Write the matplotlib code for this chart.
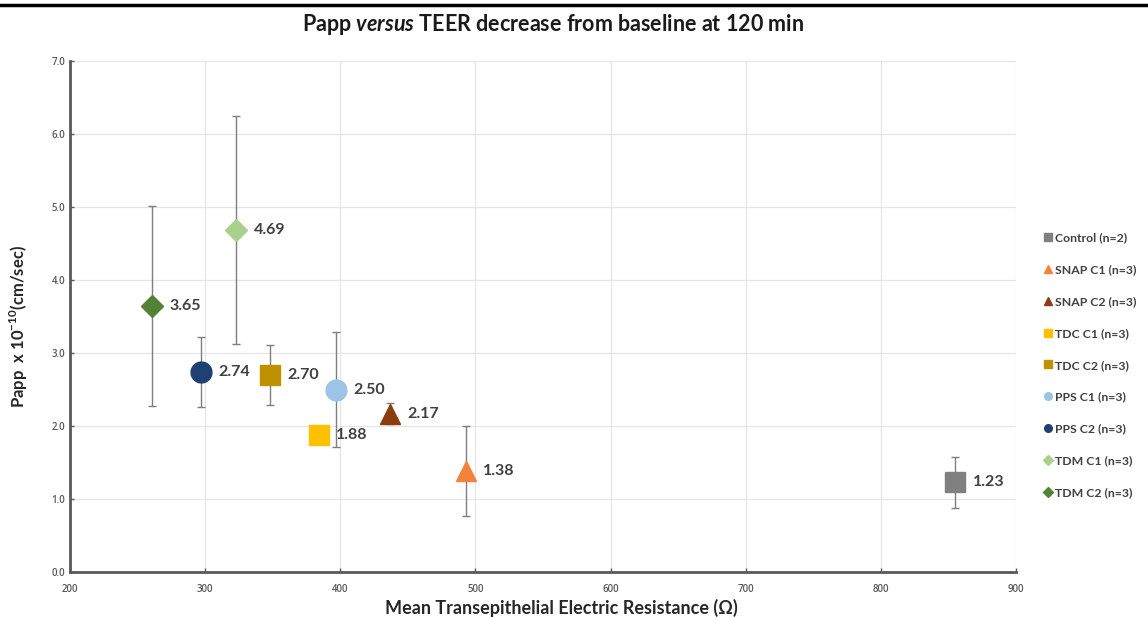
import matplotlib
matplotlib.use("Agg")
import matplotlib.pyplot as plt
from matplotlib.lines import Line2D

plt.rcParams['font.family'] = ['Lato', 'DejaVu Sans']
plt.rcParams['mathtext.fontset'] = 'custom'
plt.rcParams['mathtext.rm'] = 'Lato'
plt.rcParams['mathtext.bf'] = 'Lato:bold'
plt.rcParams['mathtext.bfit'] = 'Lato:italic:bold'

# data
groups = ['Control (n=2)', 'SNAP C1 (n=3)', 'SNAP C2 (n=3)', 'TDC C1 (n=3)', 'TDC C2 (n=3)',
          'PPS C1 (n=3)', 'PPS C2 (n=3)', 'TDM C1 (n=3)', 'TDM C2 (n=3)']
teer = [855, 493, 437, 384, 348, 397, 297, 323, 261]
papp = [1.23, 1.38, 2.17, 1.88, 2.70, 2.50, 2.74, 4.69, 3.65]
papp_err = [0.35, 0.62, 0.14, 0.08, 0.41, 0.79, 0.48, 1.56, 1.37]
markers = ['s', '^', '^', 's', 's', 'o', 'o', 'D', 'D']
colors = ['#808080', '#F4823A', '#8B3D0E', '#FFC000', '#BF9000',
          '#9DC3E6', '#203F73', '#A9D18E', '#548235']
sizes = [14, 15, 15, 14, 14, 15, 15, 11.5, 11.5]

fig = plt.figure(figsize=(11.48, 6.17), dpi=100)
ax = fig.add_axes([0.061, 0.073, 0.824, 0.828])

for i in range(len(groups)):
    ax.errorbar(teer[i], papp[i], yerr=papp_err[i], fmt='none', ecolor='#7f7f7f',
                elinewidth=1, capsize=3, capthick=1, zorder=2)
    ax.plot(teer[i], papp[i], marker=markers[i], color=colors[i], markersize=sizes[i],
            linestyle='none', zorder=3)
    ax.annotate(f'{papp[i]:.2f}', (teer[i], papp[i]), xytext=(12.5, 0), textcoords='offset points',
                va='center', ha='left', fontsize=11.5, fontweight='bold', color='#404040')

ax.set_xlim(200, 900)
ax.set_ylim(0, 7)
ax.set_xticks(range(200, 901, 100))
ax.set_yticks([0, 1, 2, 3, 4, 5, 6, 7])
ax.set_yticklabels([f'{v:.1f}' for v in range(8)])
ax.grid(True, color='#e6e6e6', linewidth=0.9)
ax.set_axisbelow(True)
for s in ['top', 'right']:
    ax.spines[s].set_visible(False)
for s in ['left', 'bottom']:
    ax.spines[s].set_color('#595959')
    ax.spines[s].set_linewidth(2)
ax.tick_params(direction='in', length=3, width=1, color='#595959',
               labelsize=7, labelcolor='#595959')
ax.tick_params(axis='x', pad=9)
for lab in ax.get_xticklabels() + ax.get_yticklabels():
    lab.set_family('Open Sans')
    lab.set_fontweight('semibold')

ax.set_xlabel('Mean Transepithelial Electric Resistance (Ω)', fontsize=13,
              fontweight='bold', color='#262626')
ax.xaxis.set_label_coords(0.519, -0.052)
ax.set_ylabel(r'Papp  x 10$^{\mathbf{-10}}$(cm/sec)', fontsize=12,
              fontweight='bold', color='#262626')
ax.yaxis.set_label_coords(-0.042, 0.48)

fig.text(0.482, 0.96, r'Papp $\mathbfit{versus}$ TEER decrease from baseline at 120 min',
         ha='center', va='center', fontsize=15.5, fontweight='bold', color='#1a1a1a')

handles = [Line2D([], [], marker=markers[i], color=colors[i], linestyle='none',
                  markersize=5.5) for i in range(len(groups))]
leg = fig.legend(handles, groups, loc='center left', bbox_to_anchor=(0.898, 0.408),
                 frameon=False, fontsize=8.8, handletextpad=0.1, labelspacing=1.7,
                 handlelength=1)
for t in leg.get_texts():
    t.set_fontweight('bold')
    t.set_color('#404040')

fig.add_artist(Line2D([0, 1], [0.992, 0.992], color='black', linewidth=2.5))

fig.savefig('out.png', dpi=100)
